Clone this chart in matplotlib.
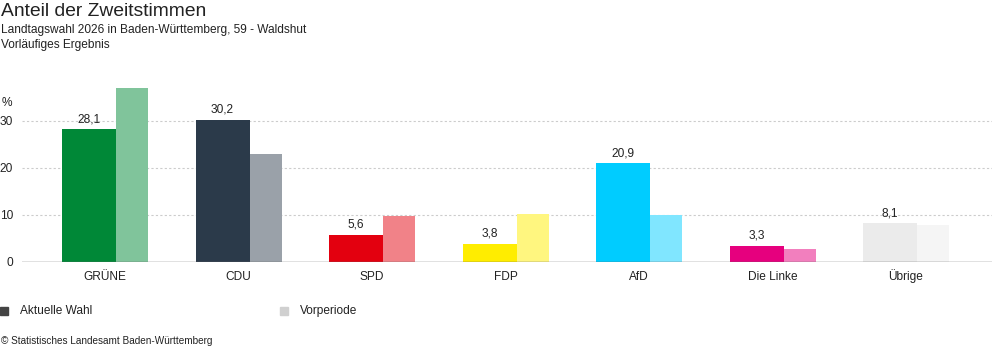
import matplotlib
matplotlib.use("Agg")
import matplotlib.pyplot as plt
from matplotlib.patches import Rectangle

plt.rcParams['font.family'] = ['Liberation Sans', 'DejaVu Sans']

categories = ["GRÜNE", "CDU", "SPD", "FDP", "AfD", "Die Linke", "Übrige"]
current = [28.1, 30.2, 5.6, 3.8, 20.9, 3.3, 8.1]
previous = [37.0, 22.8, 9.6, 10.1, 9.8, 2.6, 7.7]
current_labels = ["28,1", "30,2", "5,6", "3,8", "20,9", "3,3", "8,1"]
colors_cur = ["#008837", "#2b3a4a", "#e3000f", "#ffed00", "#00ccff", "#e6007e", "#ebebeb"]
colors_prev = ["#80c49b", "#9aa1a9", "#f18288", "#fff67f", "#80e6ff", "#f27fbe", "#f5f5f5"]
yticks = [0, 10, 20, 30]

W, H = 992, 352
fig = plt.figure(figsize=(W / 100, H / 100), dpi=100)

FS = 8.6

ax_left, ax_right = 22, 992
y0_px = 261.5
px_per_unit = 4.7
ymax = 40
ax_top = y0_px - ymax * px_per_unit
ax = fig.add_axes([ax_left / W, 1 - y0_px / H, (ax_right - ax_left) / W, (y0_px - ax_top) / H])

spacing = 133.5
first_center = 83
xs = list(range(len(categories)))
cur_w = 54 / spacing
prev_w = 32 / spacing
cur_off = -16 / spacing
prev_off = 27 / spacing

ax.bar([x + cur_off for x in xs], current, width=cur_w, color=colors_cur, zorder=2, linewidth=0)
ax.bar([x + prev_off for x in xs], previous, width=prev_w, color=colors_prev, zorder=2, linewidth=0)

for x, v, lab in zip(xs, current, current_labels):
    ax.text(x + cur_off, v + 0.9, lab, ha='center', va='bottom', fontsize=FS, color='#222222', zorder=3)

ax.set_xlim(-first_center / spacing, (ax_right - ax_left - first_center) / spacing)
ax.set_ylim(0, ymax)

for t in yticks[1:]:
    ax.axhline(t, color='#cccccc', linewidth=0.8, linestyle=(0, (2, 2)), zorder=1)
ax.axhline(0, color='#666666', linewidth=1.0, zorder=3)

ax.set_xticks(xs)
ax.set_xticklabels(categories, fontsize=FS, color='#222222')
ax.set_yticks(yticks)
ax.set_yticklabels([str(t) for t in yticks], fontsize=FS, color='#222222')
ax.tick_params(axis='both', length=0)
ax.tick_params(axis='x', pad=13.3)
ax.tick_params(axis='y', pad=6.5)
for lbl in ax.get_xticklabels():
    lbl.set_verticalalignment('baseline')
for lbl in ax.get_yticklabels():
    lbl.set_horizontalalignment('right')
for s in ax.spines.values():
    s.set_visible(False)

fig.text(2 / W, 1 - 103 / H, "%", fontsize=FS, color='#222222', va='center', ha='left')

fig.text(1 / W, 1 - 11 / H, "Anteil der Zweitstimmen", fontsize=13.9, color='#222222', va='center', ha='left')
fig.text(1 / W, 1 - 30 / H, "Landtagswahl 2026 in Baden-Württemberg, 59 - Waldshut", fontsize=FS, color='#222222', va='center', ha='left')
fig.text(1 / W, 1 - 45 / H, "Vorläufiges Ergebnis", fontsize=FS, color='#222222', va='center', ha='left')

fig.add_artist(Rectangle((0, 1 - 315 / H), 8 / W, 8 / H, transform=fig.transFigure, color='#444444'))
fig.text(20 / W, 1 - 311 / H, "Aktuelle Wahl", fontsize=FS, color='#222222', va='center', ha='left')
fig.add_artist(Rectangle((280 / W, 1 - 315 / H), 8 / W, 8 / H, transform=fig.transFigure, color='#d0d0d0'))
fig.text(300 / W, 1 - 311 / H, "Vorperiode", fontsize=FS, color='#222222', va='center', ha='left')

fig.text(1 / W, 1 - 341 / H, "© Statistisches Landesamt Baden-Württemberg", fontsize=7.2, color='#222222', va='center', ha='left')

fig.savefig("out.png", dpi=100, facecolor='white')
